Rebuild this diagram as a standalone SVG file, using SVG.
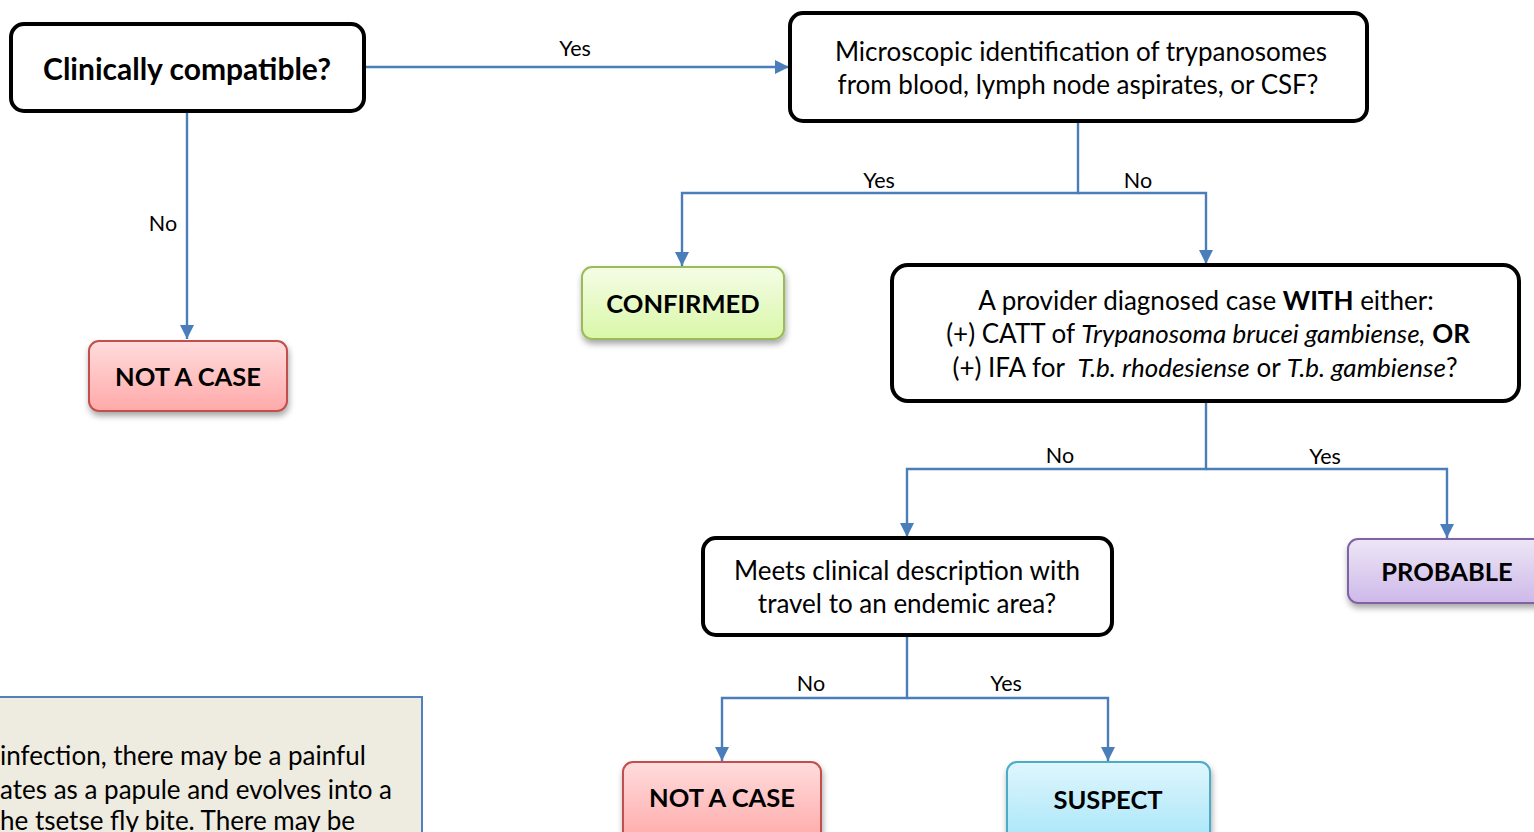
<svg xmlns="http://www.w3.org/2000/svg" width="1534" height="832" viewBox="0 0 1534 832">
<style>
text{font-family:Lato,"Liberation Sans",sans-serif;fill:#000}
.q{fill:#fff;stroke:#000;stroke-width:4}
.t{font-size:26px;text-anchor:middle}
.tb{font-size:30px;font-weight:bold;text-anchor:middle}
.r{font-size:25.5px;font-weight:bold;text-anchor:middle}
.lbl{font-size:21.5px;text-anchor:middle}
.c{fill:none;stroke:#4a7ebb;stroke-width:2.4}
.note{font-size:26px}
</style>
<defs>
<marker id="ah" viewBox="0 0 14 14" refX="14" refY="7" markerWidth="14" markerHeight="14" markerUnits="userSpaceOnUse" orient="auto">
<path d="M0,0 L14,7 L0,14 Z" fill="#4a7ebb"/>
</marker>
<linearGradient id="gRed" x1="0" y1="0" x2="0" y2="1"><stop offset="0" stop-color="#ffdcdc"/><stop offset="1" stop-color="#ffa9a9"/></linearGradient>
<linearGradient id="gGreen" x1="0" y1="0" x2="0" y2="1"><stop offset="0" stop-color="#f5fde6"/><stop offset="1" stop-color="#d9f7a8"/></linearGradient>
<linearGradient id="gPurple" x1="0" y1="0" x2="0" y2="1"><stop offset="0" stop-color="#ede6f6"/><stop offset="1" stop-color="#cdb9e9"/></linearGradient>
<linearGradient id="gBlue" x1="0" y1="0" x2="0" y2="1"><stop offset="0" stop-color="#dff6fd"/><stop offset="1" stop-color="#a9e6f9"/></linearGradient>
<filter id="sh" x="-10%" y="-10%" width="125%" height="140%"><feDropShadow dx="1" dy="4" stdDeviation="3" flood-color="#000" flood-opacity="0.35"/></filter>
</defs>

<g id="connectors">
<path class="c" d="M364,67 H789" marker-end="url(#ah)"/>
<path class="c" d="M187,112 V339" marker-end="url(#ah)"/>
<path class="c" d="M1078,122 V193 H682 V266" marker-end="url(#ah)"/>
<path class="c" d="M1078,193 H1206 V264" marker-end="url(#ah)"/>
<path class="c" d="M1206,401 V469 H907 V537" marker-end="url(#ah)"/>
<path class="c" d="M1206,469 H1447 V538" marker-end="url(#ah)"/>
<path class="c" d="M907,636 V698 H722 V761" marker-end="url(#ah)"/>
<path class="c" d="M907,698 H1108 V761" marker-end="url(#ah)"/>
<text class="lbl" x="575" y="56">Yes</text>
<text class="lbl" x="163" y="231">No</text>
<text class="lbl" x="879" y="188">Yes</text>
<text class="lbl" x="1138" y="188">No</text>
<text class="lbl" x="1060" y="463">No</text>
<text class="lbl" x="1325" y="464">Yes</text>
<text class="lbl" x="811" y="691">No</text>
<text class="lbl" x="1006" y="691">Yes</text>
</g>

<g id="clinically-compatible">
<rect class="q" x="11" y="24" width="353" height="87" rx="13"/>
<text class="tb" x="187" y="80">Clinically compatible?</text>
</g>

<g id="microscopic">
<rect class="q" x="790" y="13" width="577" height="108" rx="13"/>
<text class="t" x="1081" y="61">Microscopic identification of trypanosomes</text>
<text class="t" x="1078" y="94">from blood, lymph node aspirates, or CSF?</text>
</g>

<g id="not-a-case-1">
<rect x="89" y="341" width="198" height="70" rx="10" fill="url(#gRed)" stroke="#c0504d" stroke-width="2" filter="url(#sh)"/>
<text class="r" x="188" y="386">NOT A CASE</text>
</g>

<g id="confirmed">
<rect x="582" y="267" width="202" height="72" rx="10" fill="url(#gGreen)" stroke="#9bbb59" stroke-width="2" filter="url(#sh)"/>
<text class="r" x="683" y="313">CONFIRMED</text>
</g>

<g id="provider-diagnosed">
<rect class="q" x="892" y="265" width="627" height="136" rx="16"/>
<text class="t" x="1206" y="310">A provider diagnosed case <tspan font-weight="bold">WITH</tspan> either:</text>
<text class="t" x="1208" y="343">(+) CATT of <tspan font-style="italic">Trypanosoma brucei gambiense,</tspan> <tspan font-weight="bold">OR</tspan></text>
<text class="t" x="1205" y="377">(+) IFA for &#160;<tspan font-style="italic">T.b. rhodesiense</tspan> or <tspan font-style="italic">T.b. gambiense</tspan>?</text>
</g>

<g id="probable">
<rect x="1348" y="539" width="200" height="64" rx="10" fill="url(#gPurple)" stroke="#8064a2" stroke-width="2" filter="url(#sh)"/>
<text class="r" x="1447" y="581">PROBABLE</text>
</g>

<g id="meets-clinical">
<rect class="q" x="703" y="538" width="409" height="97" rx="13"/>
<text class="t" x="907" y="580">Meets clinical description with</text>
<text class="t" x="907" y="613">travel to an endemic area?</text>
</g>

<g id="not-a-case-2">
<rect x="623" y="762" width="198" height="80" rx="10" fill="url(#gRed)" stroke="#c0504d" stroke-width="2" filter="url(#sh)"/>
<text class="r" x="722" y="807">NOT A CASE</text>
</g>

<g id="suspect">
<rect x="1007" y="762" width="203" height="80" rx="10" fill="url(#gBlue)" stroke="#4bacc6" stroke-width="2" filter="url(#sh)"/>
<text class="r" x="1108" y="809">SUSPECT</text>
</g>

<g id="note">
<rect x="-10" y="697" width="432" height="150" fill="#eeebe0" stroke="#4f81bd" stroke-width="2"/>
<text class="note" x="0" y="765">infection, there may be a painful</text>
<text class="note" x="0" y="799">ates as a papule and evolves into a</text>
<text class="note" x="0" y="830">he tsetse fly bite. There may be</text>
</g>
</svg>
